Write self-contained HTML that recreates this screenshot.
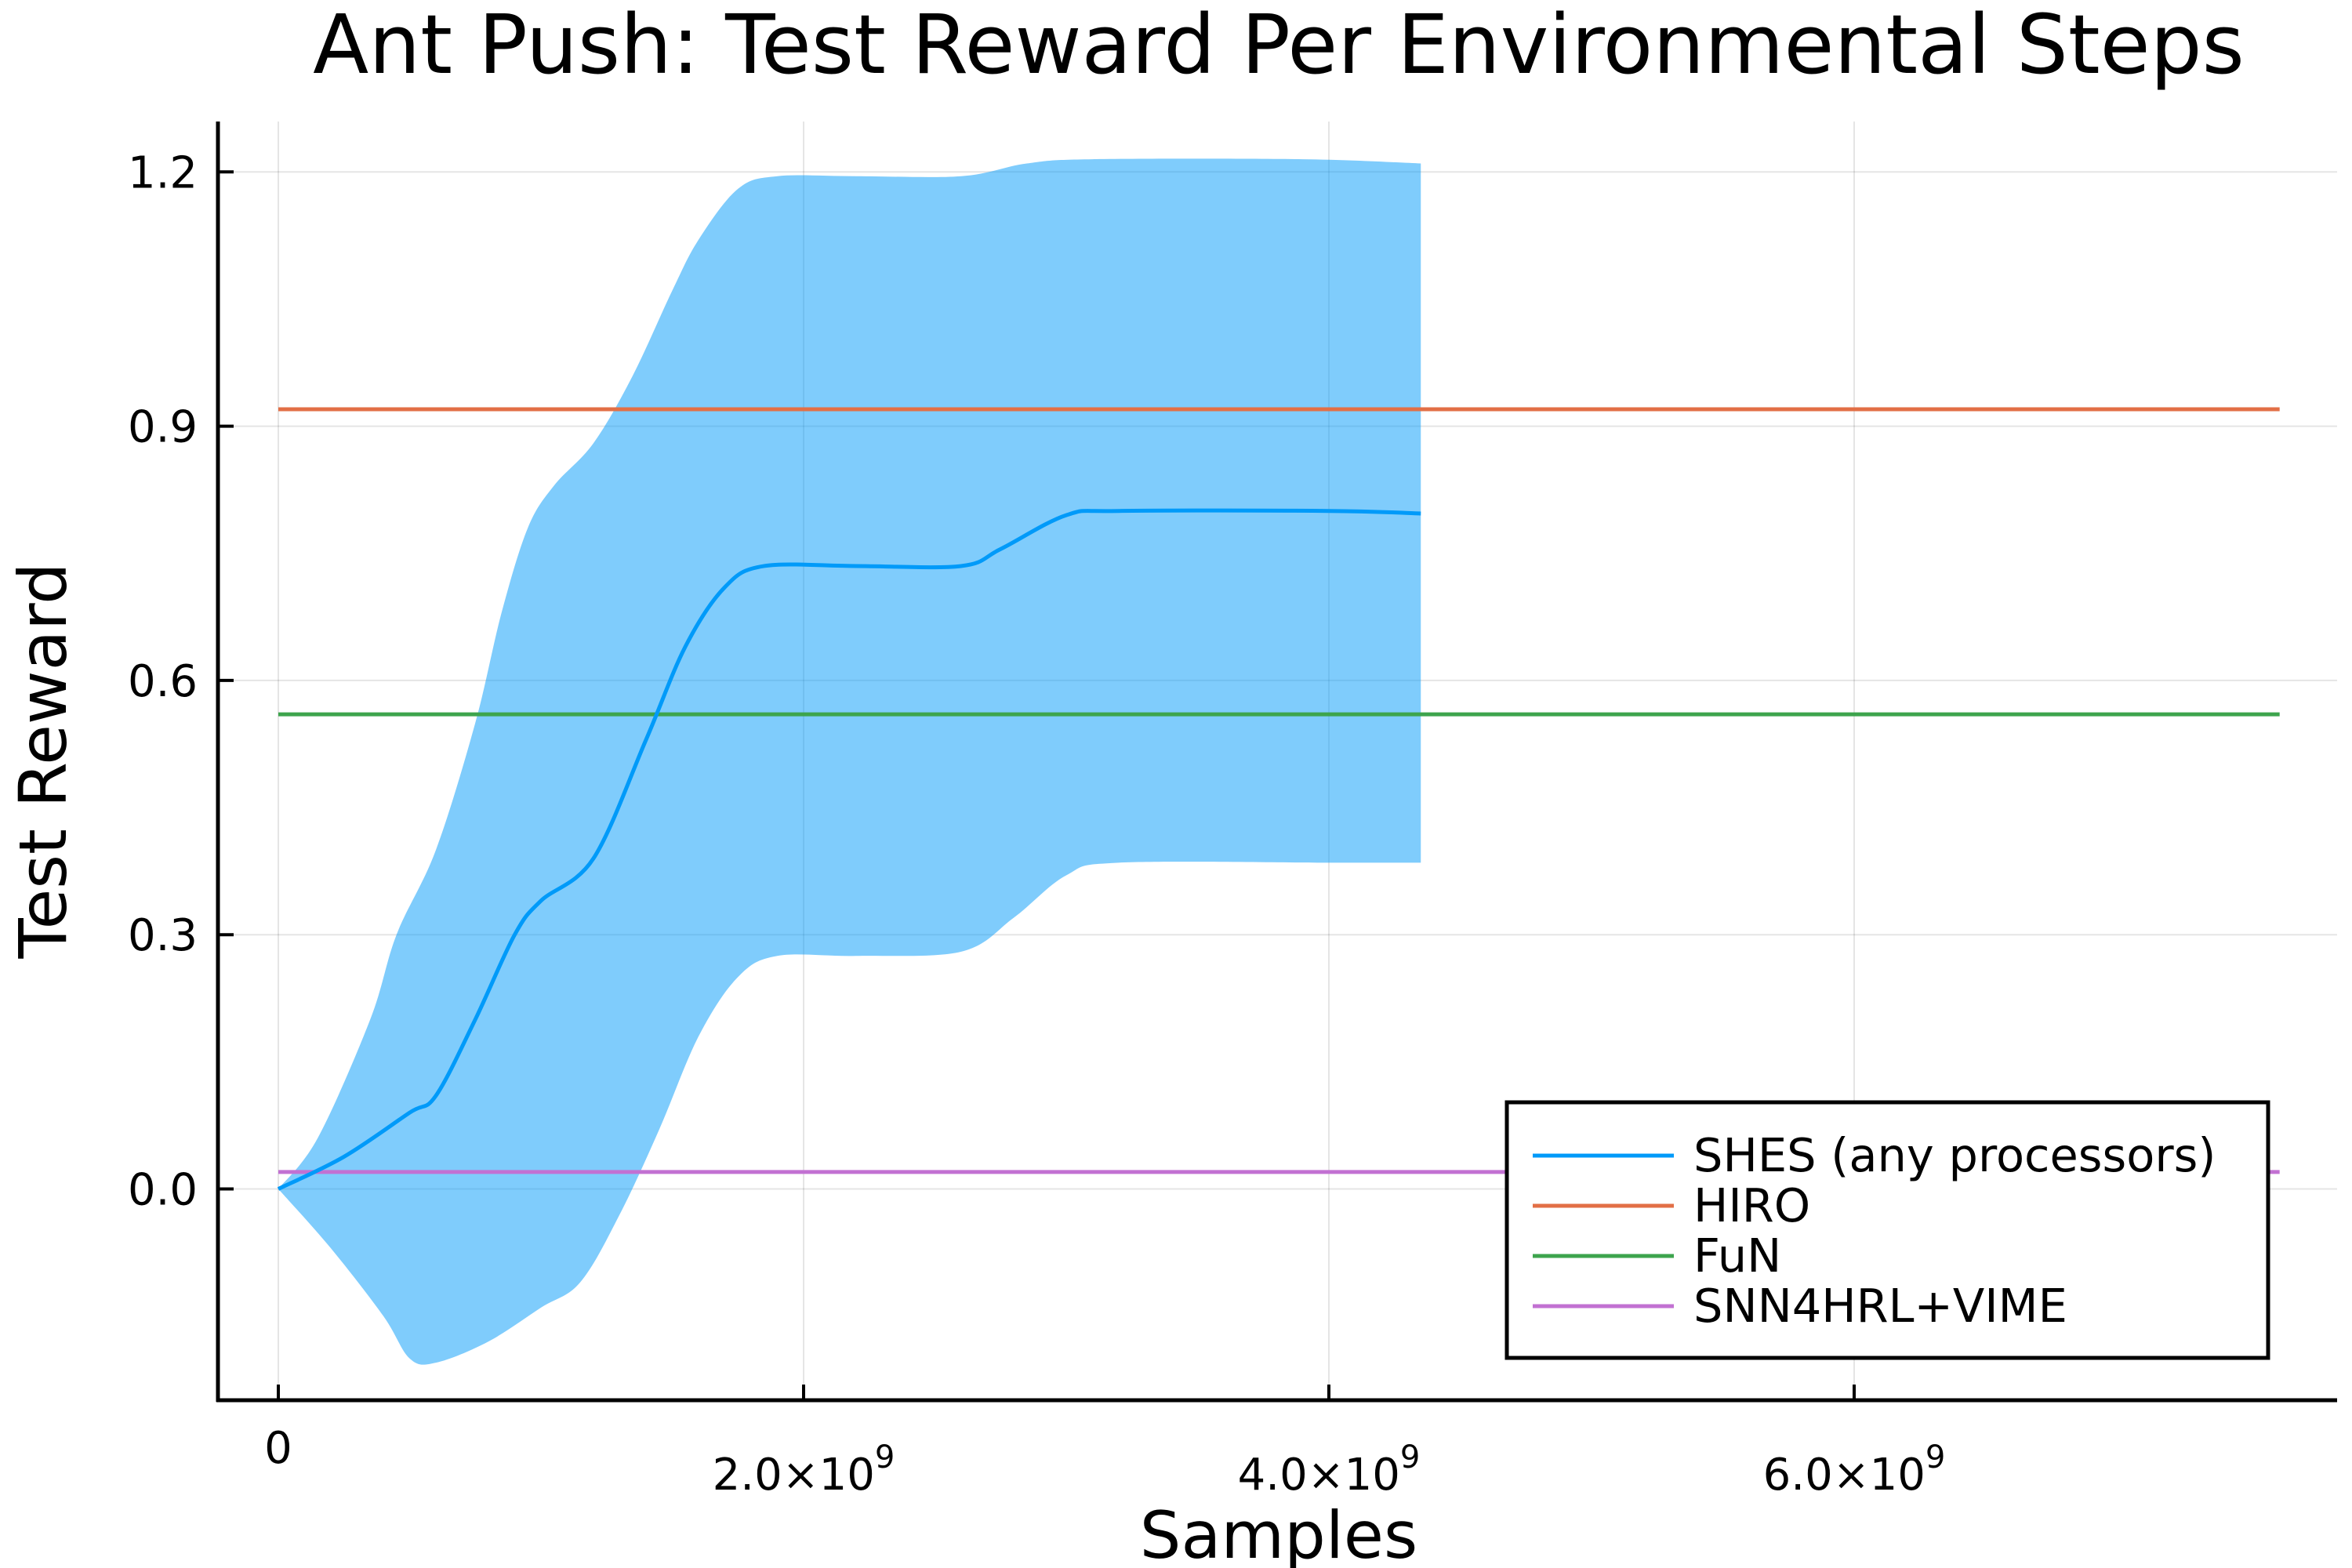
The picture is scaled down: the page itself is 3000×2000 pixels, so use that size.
<!DOCTYPE html>
<html><head><meta charset="utf-8"><style>
html,body{margin:0;padding:0;background:#fff;}
svg{display:block;font-family:"DejaVu Sans","Liberation Sans",sans-serif;}
</style></head><body>
<svg id="chart" width="3000" height="2000" viewBox="0 0 3000 2000">
<rect width="3000" height="2000" fill="#fff"/>
<g id="grid"></g>
<g id="series"></g>
<g id="axes"></g>
<text x="1631" y="93" font-size="104" text-anchor="middle">Ant Push: Test Reward Per Environmental Steps</text>
<text x="1631" y="1987" font-size="83" text-anchor="middle">Samples</text>
<text transform="translate(84,970) rotate(-90)" font-size="84" text-anchor="middle">Test Reward</text>
<g id="legend"></g>
</svg>
<script>
const xTicks = [0, 2, 4, 6];
const xTickLabels = ["0", "2.0×10", "4.0×10", "6.0×10"];
const yTicks = [0.0, 0.3, 0.6, 0.9, 1.2];
const yTickLabels = ["0.0", "0.3", "0.6", "0.9", "1.2"];
const meanX = [0,0.25,0.5,0.6,0.75,0.9,1.0,1.2,1.4,1.55,1.7,1.85,2.2,2.6,2.75,3.0,3.2,4.0,4.35];
const meanY = [0,0.038,0.09,0.11,0.2,0.3,0.34,0.39,0.53,0.64,0.71,0.735,0.735,0.735,0.755,0.795,0.8,0.8,0.797];
const upX = [0,0.15,0.35,0.45,0.6,0.75,0.85,0.95,1.05,1.2,1.35,1.5,1.6,1.75,1.9,2.2,2.6,2.85,3.1,3.9,4.35];
const upY = [0,0.06,0.2,0.3,0.4,0.55,0.68,0.78,0.83,0.88,0.96,1.06,1.12,1.18,1.195,1.195,1.195,1.21,1.215,1.215,1.21];
const loX = [0,0.2,0.4,0.5,0.6,0.8,1.0,1.15,1.3,1.45,1.6,1.75,1.9,2.2,2.6,2.8,3.0,3.2,4.0,4.35];
const loY = [0,-0.07,-0.15,-0.2,-0.205,-0.18,-0.14,-0.11,-0.03,0.07,0.18,0.25,0.275,0.275,0.28,0.32,0.37,0.385,0.385,0.385];
const hlineNames = ["HIRO","FuN","SNN4HRL+VIME"];
const hlineValues = [0.92, 0.56, 0.02];
const hlineColors = ["#e26f46","#3da44d","#c271d2"];
const hlineXEnd = 7.62;
const legendNames = ["SHES (any processors)","HIRO","FuN","SNN4HRL+VIME"];
const legendColors = ["#009af9","#e26f46","#3da44d","#c271d2"];

const NS="http://www.w3.org/2000/svg";
const PL=278, PR=2981, PT=155, PB=1786;
const X=v=>355+v*335;
const Y=v=>1516.5-v*1081;
function mk(tag,attrs,parent){const e=document.createElementNS(NS,tag);for(const k in attrs)e.setAttribute(k,attrs[k]);parent.appendChild(e);return e;}
function smooth(xs,ys){
  const p=xs.map((x,i)=>[X(x),Y(ys[i])]);
  let d=`M${p[0][0]},${p[0][1]}`;
  for(let i=0;i<p.length-1;i++){
    const p0=p[i-1]||p[i],p1=p[i],p2=p[i+1],p3=p[i+2]||p[i+1];
    const c1=[p1[0]+(p2[0]-p0[0])/6,p1[1]+(p2[1]-p0[1])/6];
    const c2=[p2[0]-(p3[0]-p1[0])/6,p2[1]-(p3[1]-p1[1])/6];
    d+=`C${c1[0]},${c1[1]} ${c2[0]},${c2[1]} ${p2[0]},${p2[1]}`;
  }
  return d;
}
const grid=document.getElementById('grid');
xTicks.forEach(t=>{const l=mk('line',{x1:X(t),x2:X(t),y1:PT,y2:PB,stroke:'#000','stroke-opacity':0.1,'stroke-width':2},grid);
});
yTicks.forEach(t=>{const l=mk('line',{x1:PL,x2:PR,y1:Y(t),y2:Y(t),stroke:'#000','stroke-opacity':0.1,'stroke-width':2},grid);
});

const ser=document.getElementById('series');
const upPath=smooth(upX,upY);
const loRevX=loX.slice().reverse(), loRevY=loY.slice().reverse();
const loPath=smooth(loRevX,loRevY).replace(/^M/,'L');
const band=mk('path',{d:upPath+loPath+'Z',fill:'#009af9','fill-opacity':0.5},ser);


hlineValues.forEach((v,i)=>{const l=mk('line',{x1:X(0),x2:X(hlineXEnd),y1:Y(v),y2:Y(v),stroke:hlineColors[i],'stroke-width':5},ser);

});
const mean=mk('path',{d:smooth(meanX,meanY),fill:'none',stroke:'#009af9','stroke-width':5},ser);



const ax=document.getElementById('axes');
const a1=mk('line',{x1:PL,x2:PL,y1:PT,y2:PB+2,stroke:'#000','stroke-width':5},ax);

const a2=mk('line',{x1:PL-2,x2:PR,y1:PB,y2:PB,stroke:'#000','stroke-width':5},ax);

xTicks.forEach((t,i)=>{
  const l=mk('line',{x1:X(t),x2:X(t),y1:PB,y2:PB-20,stroke:'#000','stroke-width':4},ax);
  
  const tx=mk('text',{x:X(t),y:i==0?1866:1900,'font-size':56,'text-anchor':'middle'},ax);
  
  tx.textContent=xTickLabels[i];
  if(i>0){const s=mk('tspan',{dy:-28,'font-size':40},tx);s.textContent='9';}
});
yTicks.forEach((t,i)=>{
  const l=mk('line',{x1:PL,x2:PL+20,y1:Y(t),y2:Y(t),stroke:'#000','stroke-width':4},ax);
  
  const tx=mk('text',{x:PL-26,y:Y(t)+20,'font-size':56,'text-anchor':'end'},ax);
  
  tx.textContent=yTickLabels[i];
});

const lg=document.getElementById('legend');
const box=mk('rect',{x:1922,y:1406,width:971,height:326,fill:'#fff',stroke:'#000','stroke-width':5},lg);

legendNames.forEach((n,i)=>{
  const y=1474+i*64;
  const l=mk('line',{x1:1955,x2:2135,y1:y,y2:y,stroke:legendColors[i],'stroke-width':5},lg);
  
  const t=mk('text',{x:2160,y:y+20,'font-size':59},lg);
  
  t.textContent=n;
});
</script>
</body></html>
